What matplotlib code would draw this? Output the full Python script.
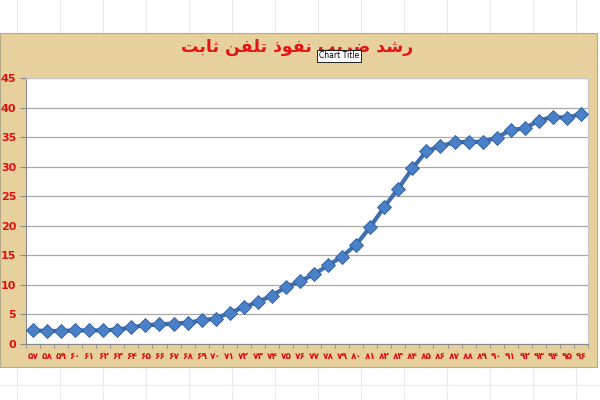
import matplotlib
matplotlib.use('Agg')
import matplotlib.pyplot as plt
from matplotlib.patches import Rectangle
from matplotlib.lines import Line2D

# years 57..96 (persian digits)
years = ['۵۷', '۵۸', '۵۹', '۶۰', '۶۱', '۶۲', '۶۳', '۶۴', '۶۵', '۶۶',
         '۶۷', '۶۸', '۶۹', '۷۰', '۷۱', '۷۲', '۷۳', '۷۴', '۷۵', '۷۶',
         '۷۷', '۷۸', '۷۹', '۸۰', '۸۱', '۸۲', '۸۳', '۸۴', '۸۵', '۸۶',
         '۸۷', '۸۸', '۸۹', '۹۰', '۹۱', '۹۲', '۹۳', '۹۴', '۹۵', '۹۶']
values = [2.3, 2.2, 2.2, 2.3, 2.3, 2.3, 2.45, 2.8, 3.2, 3.3,
          3.45, 3.6, 4.0, 4.3, 5.3, 6.2, 7.1, 8.2, 9.6, 10.6,
          11.8, 13.3, 14.8, 16.8, 19.8, 23.2, 26.3, 29.7, 32.6, 33.5,
          34.1, 34.2, 34.2, 34.9, 36.2, 36.5, 37.8, 38.4, 38.3, 38.9]
yticks = [0, 5, 10, 15, 20, 25, 30, 35, 40, 45]

# title "رشد ضریب نفوذ تلفن ثابت" in presentation forms, visual order
title = ('\uFE96\uFE91\uFE8E\uFE9B' + ' ' +
         '\uFEE6\uFED4\uFEE0\uFE97' + ' ' +
         '\uFEAB\uFEEE\uFED4\uFEE7' + ' ' +
         '\uFE90\uFBFE\uFEAE\uFEBF' + ' ' +
         '\uFEAA\uFEB7\uFEAD')

fig = plt.figure(figsize=(6, 4), dpi=100)
fig.patch.set_facecolor('white')

# faint spreadsheet cell lines outside the chart
for xp in range(17, 600, 43):
    fig.add_artist(Line2D([xp / 600, xp / 600], [0, 1], color='#ececec', lw=0.8, zorder=-3))
fig.add_artist(Line2D([0, 1], [1 - 385 / 400, 1 - 385 / 400], color='#ececec', lw=0.8, zorder=-3))

# parchment chart area
fig.add_artist(Rectangle((0, 1 - 367 / 400), 597 / 600, 334 / 400, transform=fig.transFigure,
                         facecolor='#E6D09E', edgecolor='#b9aa88', lw=0.8, zorder=-2))

ax = fig.add_axes([26 / 600, 1 - 344 / 400, 562 / 600, 266 / 400])
ax.set_facecolor('white')
x = list(range(len(years)))
ax.plot(x, values, color='#3E6FB0', lw=3, marker='D', markersize=7.5,
        markerfacecolor='#4A80C8', markeredgecolor='#2F5C98', markeredgewidth=0.6,
        solid_joinstyle='round', zorder=3)

ax.set_xlim(-0.5, len(years) - 0.5)
ax.set_ylim(0, 45)
ax.set_yticks(yticks)
ax.set_yticklabels([str(v) for v in yticks], color='#E01010', fontsize=8, fontweight='bold')
ax.yaxis.grid(True, color='#a8a8a8', lw=0.9)
ax.set_axisbelow(True)

ax.set_xticks(x)
ax.set_xticklabels(years, color='#E01010', fontsize=6.5, fontweight='bold', fontfamily='DejaVu Sans')
ax.set_xticks([i - 0.5 for i in range(len(years) + 1)], minor=True)
ax.tick_params(axis='x', which='major', length=0, pad=6)
ax.tick_params(axis='x', which='minor', length=3, color='#8a8a8a', direction='out')
ax.tick_params(axis='y', length=4, color='#8a8a8a', pad=3)

for s in ['top', 'right']:
    ax.spines[s].set_color('#c8c8c8')
for s in ['left', 'bottom']:
    ax.spines[s].set_color('#8a8a8a')

fig.text(0.495, 1 - 47 / 400, title, ha='center', va='center', color='#E41414',
         fontsize=12.5, fontweight='bold', family='DejaVu Sans')
fig.text(339 / 600, 1 - 56 / 400, 'Chart Title', ha='center', va='center', fontsize=5.5,
         color='black', bbox=dict(facecolor='white', edgecolor='black', lw=0.6, pad=1.2))

fig.savefig('out.png', dpi=100)
